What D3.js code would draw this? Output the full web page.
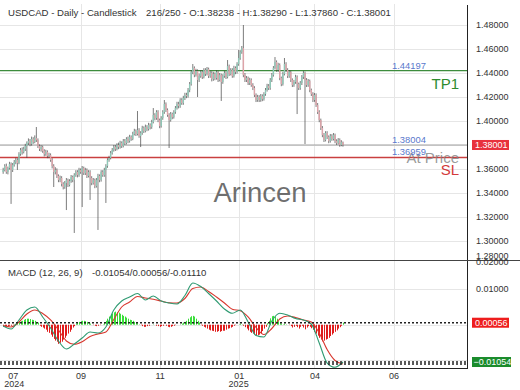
<!DOCTYPE html>
<html>
<head>
<meta charset="utf-8">
<script src="https://cdn.jsdelivr.net/npm/d3@7"></script>
<style>
body{margin:0;background:#fff;}
svg{display:block;font-family:"Liberation Sans",Arial,sans-serif;}
</style>
</head>
<body>
<svg id="chart" width="520" height="390"></svg>
<script>
// ---- data ----
const firstOpen = 1.3575;
const closes = [1.3592,1.3625,1.3575,1.3608,1.3642,1.3592,1.3633,1.3658,1.3675,1.3650,
1.3725,1.3758,1.3742,1.3767,1.3792,1.3817,1.3833,1.3808,1.3850,1.3825,
1.3858,1.3842,1.3792,1.3767,1.3783,1.3750,1.3725,1.3742,1.3708,1.3717,
1.3675,1.3625,1.3575,1.3592,1.3542,1.3508,1.3525,1.3475,1.3450,1.3483,
1.3508,1.3467,1.3500,1.3533,1.3508,1.3550,1.3575,1.3550,1.3592,1.3575,
1.3608,1.3567,1.3592,1.3542,1.3575,1.3525,1.3483,1.3508,1.3458,1.3508,
1.3542,1.3508,1.3575,1.3550,1.3592,1.3625,1.3675,1.3692,1.3733,1.3758,
1.3783,1.3767,1.3800,1.3783,1.3817,1.3792,1.3833,1.3817,1.3850,1.3833,
1.3867,1.3850,1.3892,1.3917,1.3892,1.3925,1.3875,1.3900,1.3942,1.3917,
1.3950,1.3933,1.3967,1.3950,1.3992,1.4050,1.4025,1.4075,1.4008,1.3958,
1.4025,1.4075,1.4142,1.4092,1.4050,1.4008,1.4058,1.4033,1.4075,1.4108,
1.4142,1.4125,1.4175,1.4150,1.4192,1.4217,1.4208,1.4258,1.4308,1.4408,
1.4442,1.4383,1.4417,1.4342,1.4375,1.4408,1.4367,1.4425,1.4392,1.4433,
1.4375,1.4400,1.4350,1.4392,1.4358,1.4408,1.4342,1.4383,1.4325,1.4375,
1.4400,1.4367,1.4458,1.4392,1.4425,1.4375,1.4442,1.4408,1.4475,1.4525,
1.4575,1.4608,1.4383,1.4342,1.4358,1.4317,1.4342,1.4300,1.4275,1.4217,
1.4175,1.4200,1.4175,1.4208,1.4183,1.4225,1.4258,1.4292,1.4275,1.4342,
1.4383,1.4442,1.4492,1.4425,1.4467,1.4358,1.4308,1.4392,1.4475,1.4425,
1.4375,1.4408,1.4342,1.4300,1.4325,1.4367,1.4308,1.4275,1.4317,1.4367,
1.4400,1.4342,1.4300,1.4333,1.4258,1.4225,1.4175,1.4217,1.4133,1.4075,
1.4008,1.3942,1.3883,1.3842,1.3900,1.3867,1.3833,1.3875,1.3850,1.3883,
1.3833,1.3817,1.3842,1.3800,1.38238,1.38001];
const highs = [1.3610,1.3640,1.3645,1.3620,1.3660,1.3655,1.3650,1.3675,1.3695,1.3690,
1.3740,1.3775,1.3780,1.3785,1.3810,1.3830,1.3855,1.3850,1.3870,1.3865,
1.3880,1.3950,1.3855,1.3805,1.3800,1.3795,1.3765,1.3760,1.3755,1.3735,
1.3730,1.3690,1.3640,1.3615,1.3605,1.3555,1.3545,1.3540,1.3490,1.3500,
1.3525,1.3520,1.3515,1.3550,1.3545,1.3565,1.3590,1.3590,1.3610,1.3605,
1.3625,1.3620,1.3610,1.3605,1.3590,1.3590,1.3540,1.3525,1.3520,1.3525,
1.3560,1.3555,1.3590,1.3590,1.3610,1.3640,1.3690,1.3710,1.3750,1.3775,
1.3800,1.3800,1.3815,1.3820,1.3835,1.3830,1.3850,1.3850,1.3865,1.3870,
1.3885,1.3880,1.3910,1.3935,1.3930,1.4083,1.3940,1.3915,1.3960,1.3955,
1.3970,1.3965,1.3985,1.3980,1.4010,1.4108,1.4065,1.4090,1.4090,1.4020,
1.4040,1.4090,1.4175,1.4155,1.4105,1.4065,1.4075,1.4070,1.4090,1.4125,
1.4160,1.4160,1.4190,1.4190,1.4210,1.4235,1.4235,1.4275,1.4325,1.4425,
1.4475,1.4455,1.4435,1.4430,1.4395,1.4425,1.4420,1.4440,1.4440,1.4450,
1.4445,1.4418,1.4415,1.4410,1.4405,1.4425,1.4420,1.4400,1.4395,1.4390,
1.4418,1.4415,1.4508,1.4470,1.4440,1.4440,1.4460,1.4455,1.4490,1.4592,
1.4590,1.4625,1.4800,1.4400,1.4375,1.4370,1.4360,1.4355,1.4315,1.4290,
1.4230,1.4218,1.4215,1.4225,1.4222,1.4240,1.4275,1.4310,1.4308,1.4358,
1.4400,1.4458,1.4533,1.4505,1.4485,1.4480,1.4370,1.4410,1.4525,1.4490,
1.4440,1.4425,1.4420,1.4355,1.4342,1.4385,1.4380,1.4320,1.4333,1.4383,
1.4417,1.4412,1.4358,1.4350,1.4345,1.4270,1.4240,1.4233,1.4230,1.4150,
1.4090,1.4020,1.3958,1.3900,1.3915,1.3915,1.3880,1.3892,1.3890,1.3900,
1.3895,1.3848,1.3858,1.3855,1.3840,1.38290];
const lows = [1.3560,1.3580,1.3560,1.3555,1.3595,1.3309,1.3575,1.3620,1.3640,1.3592,
1.3640,1.3710,1.3720,1.3730,1.3750,1.3692,1.3800,1.3790,1.3795,1.3810,
1.3815,1.3825,1.3775,1.3750,1.3745,1.3735,1.3705,1.3710,1.3690,1.3690,
1.3660,1.3605,1.3450,1.3555,1.3525,1.3490,1.3490,1.3455,1.3430,1.3435,
1.3258,1.3450,1.3455,1.3485,1.3490,1.3067,1.3535,1.3530,1.3535,1.3560,
1.3283,1.3550,1.3550,1.3525,1.3530,1.3342,1.3465,1.3470,1.3440,1.3445,
1.3092,1.3490,1.3495,1.3535,1.3535,1.3317,1.3610,1.3660,1.3680,1.3720,
1.3745,1.3750,1.3755,1.3765,1.3770,1.3775,1.3780,1.3800,1.3805,1.3815,
1.3820,1.3835,1.3840,1.3880,1.3875,1.3880,1.3860,1.3783,1.3885,1.3900,
1.3905,1.3915,1.3920,1.3930,1.3935,1.3980,1.4005,1.4010,1.3990,1.3940,
1.3945,1.4010,1.4060,1.4075,1.4035,1.3775,1.3995,1.4015,1.4020,1.4060,
1.4095,1.4105,1.4110,1.4135,1.4135,1.4175,1.4190,1.4195,1.4240,1.4295,
1.4390,1.4365,1.4370,1.4200,1.4325,1.4360,1.4350,1.4355,1.4375,1.4380,
1.4358,1.4360,1.4330,1.4335,1.4340,1.4345,1.4325,1.4330,1.4167,1.4310,
1.4360,1.4350,1.4355,1.4375,1.4380,1.4360,1.4362,1.4390,1.4395,1.4460,
1.4510,1.4560,1.4365,1.4325,1.4325,1.4300,1.4300,1.4285,1.4258,1.4200,
1.4158,1.4160,1.4158,1.4160,1.4165,1.4170,1.4210,1.4245,1.4258,1.4260,
1.4325,1.4370,1.4430,1.4410,1.4410,1.4340,1.4290,1.4295,1.4380,1.4408,
1.4358,1.4360,1.4325,1.4283,1.4285,1.4310,1.4058,1.4258,1.4260,1.4300,
1.4350,1.3808,1.4283,1.4285,1.4240,1.4208,1.4158,1.4160,1.4117,1.4058,
1.3990,1.3925,1.3865,1.3825,1.3830,1.3850,1.3815,1.3820,1.3835,1.3838,
1.3815,1.3800,1.3805,1.3785,1.3790,1.37860];

// MACD(12,26,9) read every 5th day
const macdDays = [0,5,10,15,20,25,30,35,40,45,50,55,60,65,70,75,80,85,90,95,100,105,
110,115,120,125,130,135,140,145,150,155,160,165,170,175,180,185,190,195,200,205,210,215];
const macdLine = [-0.00037,-0.00121,0.00133,0.00415,0.00500,0.00218,-0.00093,-0.00460,-0.00686,-0.00545,
-0.00376,-0.00206,-0.00234,-0.00065,0.00415,0.00669,0.00782,0.00881,0.00698,0.00811,
0.00669,0.00613,0.00585,0.00825,0.01178,0.01079,0.00881,0.00669,0.00444,0.00322,
0.00415,0.00076,-0.00305,-0.00347,0.00105,0.00322,0.00274,0.00175,0.00133,0.00020,
-0.00517,-0.01082,-0.01203,-0.01054];
const signalLine = [-0.00023,-0.00065,0.00076,0.00302,0.00415,0.00316,0.00133,-0.00150,-0.00460,-0.00554,
-0.00480,-0.00333,-0.00263,-0.00206,0.00147,0.00500,0.00641,0.00797,0.00754,0.00718,
0.00669,0.00621,0.00613,0.00740,0.01023,0.01065,0.00938,0.00782,0.00613,0.00435,
0.00395,0.00218,-0.00079,-0.00277,-0.00107,0.00161,0.00246,0.00203,0.00133,0.00076,
-0.00234,-0.00701,-0.01011,-0.01110];
// histogram, one per day
const histogram = [-0.0006,-0.0006,-0.0004,-0.0005,-0.0003,-0.0003,-0.0001,
0.0001,0.0003,0.0006,0.0008,0.0010,0.0011,0.0014,0.0016,0.0017,0.0017,0.0016,0.0014,0.0013,0.0011,0.0008,0.0006,
-0.0003,-0.0006,-0.0008,-0.0011,-0.0014,-0.0020,-0.0023,-0.0028,-0.0034,-0.0040,-0.0045,-0.0048,-0.0054,-0.0051,-0.0048,-0.0042,-0.0037,-0.0031,-0.0025,-0.0020,-0.0014,-0.0008,-0.0004,
0.0003,0.0006,0.0008,0.0010,0.0011,0.0011,0.0010,0.0008,0.0006,0.0003,
0,-0.0001,-0.0003,-0.0004,-0.0003,-0.0001,0,0.0001,
0.0006,0.0011,0.0017,0.0023,0.0028,0.0032,0.0035,0.0037,0.0035,0.0034,0.0031,0.0028,0.0025,0.0023,0.0020,0.0017,0.0014,0.0013,0.0011,0.0008,0.0006,0.0004,0.0001,
-0.0001,-0.0004,-0.0006,-0.0006,-0.0004,-0.0003,0,0,0.0001,0,-0.0003,-0.0004,-0.0006,-0.0004,-0.0003,0,-0.0003,-0.0006,-0.0007,-0.0006,-0.0004,-0.0003,-0.0001,0,
0,0.0001,0.0003,0.0006,0.0008,0.0011,
0.0017,0.0021,0.0024,0.0025,0.0023,0.0017,0.0011,0.0006,
-0.0001,-0.0003,-0.0006,-0.0008,-0.0011,-0.0014,-0.0016,-0.0017,-0.0018,-0.0020,-0.0020,-0.0018,-0.0020,-0.0018,-0.0017,-0.0017,-0.0014,-0.0011,-0.0010,-0.0008,-0.0006,-0.0003,-0.0001,0,
0.0001,0.0003,0.0001,
-0.0003,-0.0007,-0.0011,-0.0016,-0.0020,-0.0023,-0.0025,-0.0028,-0.0030,-0.0030,-0.0028,-0.0024,-0.0018,-0.0011,-0.0006,
0.0004,0.0011,0.0018,0.0024,0.0025,0.0023,0.0017,0.0010,0.0004,
0.0003,0.0001,0.0003,0.0001,0,-0.0001,
-0.0004,-0.0008,-0.0006,-0.0003,-0.0007,-0.0011,-0.0006,-0.0003,-0.0008,-0.0013,-0.0008,-0.0004,
-0.0006,-0.0010,-0.0014,-0.0020,-0.0025,-0.0031,-0.0037,-0.0042,-0.0047,-0.0045,-0.0042,-0.0040,-0.0037,-0.0032,-0.0028,-0.0024,-0.0020,-0.0016,-0.0011,-0.0007,-0.0003,
0.00056];

const priceTicks = [1.28,1.30,1.32,1.34,1.36,1.38,1.40,1.42,1.44,1.46,1.48];
const macdTicks = [0.01,0.02];
const macdGrid = [-0.01,0,0.01];
const monthLabels = ["07","09","11","01","04","06"];
const monthDays = [6,49,99,149,197,247];
const yearLabels = ["2024","2025"];
const yearDays = [7,149];

const tpLevel = 1.44197, atPriceLevel = 1.38004, slLevel = 1.36959;
const lastClose = 1.38001, lastHist = 0.00056, lastMacd = -0.01054, lastSignal = -0.01110;

// ---- layout ----
const plotRight = 467;
const priceTop = 4, priceBottom = 260;
const macdTop = 261, macdBottom = 368;

let svg = d3.select("#chart");
let x = d3.scaleLinear().domain([-2, 293.5]).range([0, plotRight]);
let yPrice = d3.scaleLinear().domain([1.28, 1.48]).range([265, 25]);
let yMacd = d3.scaleLinear().domain([-0.01, 0.01]).range([360.1, 289.3]);
let fmt = d3.format(".5f");

svg.append("clipPath").attr("id","clipPrice").append("rect")
    .attr("x",0).attr("y",priceTop).attr("width",plotRight).attr("height",priceBottom-priceTop);
svg.append("clipPath").attr("id","clipMacd").append("rect")
    .attr("x",0).attr("y",macdTop).attr("width",plotRight).attr("height",macdBottom-macdTop);

// grid
let grid = svg.append("g").attr("stroke","#e6e6e6").attr("stroke-width",1);
grid.selectAll("line.h").data(priceTicks.filter(t=>yPrice(t)>priceTop && yPrice(t)<priceBottom)).enter()
    .append("line").attr("x1",0).attr("x2",plotRight)
    .attr("y1",d=>Math.round(yPrice(d))+0.5).attr("y2",d=>Math.round(yPrice(d))+0.5);
grid.selectAll("line.m").data(macdGrid).enter()
    .append("line").attr("x1",0).attr("x2",plotRight)
    .attr("y1",d=>Math.round(yMacd(d))+0.5).attr("y2",d=>Math.round(yMacd(d))+0.5);
grid.selectAll("line.v").data(monthDays.slice(1)).enter()
    .append("line").attr("y1",priceTop).attr("y2",macdBottom)
    .attr("x1",d=>Math.round(x(d))+0.5).attr("x2",d=>Math.round(x(d))+0.5);

// ---- price panel ----
let price = svg.append("g").attr("clip-path","url(#clipPrice)");

// level lines
price.append("line").attr("x1",0).attr("x2",plotRight)
    .attr("y1",yPrice(tpLevel)).attr("y2",yPrice(tpLevel))
    .attr("stroke","#3d8c3d").attr("stroke-width",1.1);
price.append("line").attr("x1",0).attr("x2",plotRight)
    .attr("y1",yPrice(atPriceLevel)).attr("y2",yPrice(atPriceLevel))
    .attr("stroke","#a0a0a0").attr("stroke-width",1.1);
price.append("line").attr("x1",0).attr("x2",plotRight)
    .attr("y1",yPrice(slLevel)).attr("y2",yPrice(slLevel))
    .attr("stroke","#c94040").attr("stroke-width",1.3);

let candles = closes.map((c,i)=>({i:i, o:i==0?firstOpen:closes[i-1], h:highs[i], l:lows[i], c:c}));

price.selectAll("line.wick").data(candles).enter().append("line")
    .attr("x1",d=>x(d.i)).attr("x2",d=>x(d.i))
    .attr("y1",d=>yPrice(d.h)).attr("y2",d=>yPrice(d.l))
    .attr("stroke","#444").attr("stroke-width",0.7);
price.selectAll("rect.body").data(candles).enter().append("rect")
    .attr("x",d=>x(d.i)-0.7).attr("width",1.4)
    .attr("y",d=>yPrice(Math.max(d.o,d.c)))
    .attr("height",d=>Math.max(0.8,Math.abs(yPrice(d.o)-yPrice(d.c))))
    .attr("fill",d=>d.c>=d.o?"#8ec9b8":"#dea3a9");

// watermark
svg.append("text").attr("x",260).attr("y",202).attr("text-anchor","middle")
    .attr("font-size",27.5).attr("fill","#555").attr("fill-opacity",0.85).text("Arincen");

// level labels
let levels = [
    {v:tpLevel, big:"TP1", color:"#2e8b2e"},
    {v:atPriceLevel, big:"At Price", color:"#808080"},
    {v:slLevel, big:"SL", color:"#d33a3a"}
];
svg.selectAll("text.big").data(levels).enter().append("text")
    .attr("x",459).attr("y",d=>yPrice(d.v)+18).attr("text-anchor","end")
    .attr("font-size",15).attr("fill",d=>d.color)
    .attr("fill-opacity",d=>d.big=="At Price"?0.8:1).text(d=>d.big);
svg.selectAll("text.lvl").data(levels).enter().append("text")
    .attr("x",392).attr("y",d=>yPrice(d.v)-2)
    .attr("font-size",9.4).attr("fill","#5a78cc").text(d=>fmt(d.v));

// ---- MACD panel ----
let macd = svg.append("g").attr("clip-path","url(#clipMacd)");

macd.selectAll("rect.hist").data(histogram).enter().append("rect")
    .attr("x",(d,i)=>Math.round(x(i)))
    .attr("width",1)
    .attr("y",d=>Math.min(yMacd(0),yMacd(d)))
    .attr("height",d=>Math.abs(yMacd(d)-yMacd(0)))
    .attr("fill",d=>d>=0?"#3ade3a":"#e01c1c");

let macdPts = macdDays.map((d,k)=>({i:d, m:macdLine[k], s:signalLine[k]}));
let lineM = d3.line().curve(d3.curveMonotoneX).x(d=>x(d.i)).y(d=>yMacd(d.m));
let lineS = d3.line().curve(d3.curveMonotoneX).x(d=>x(d.i)).y(d=>yMacd(d.s));
macd.append("path").attr("d",lineS(macdPts)).attr("fill","none")
    .attr("stroke","#d8372e").attr("stroke-width",1.1);
macd.append("path").attr("d",lineM(macdPts)).attr("fill","none")
    .attr("stroke","#2f9a72").attr("stroke-width",1.1);

// dotted value lines
macd.selectAll("line.dot").data([lastHist,lastMacd,lastSignal]).enter().append("line")
    .attr("x1",0).attr("x2",plotRight)
    .attr("y1",d=>yMacd(d)).attr("y2",d=>yMacd(d))
    .attr("stroke","#222").attr("stroke-width",1.4).attr("stroke-dasharray","2,2");

// ---- frame ----
svg.append("line").attr("x1",plotRight+0.5).attr("x2",plotRight+0.5).attr("y1",5).attr("y2",macdBottom)
    .attr("stroke","#222").attr("stroke-width",1);
svg.append("line").attr("x1",0).attr("x2",520).attr("y1",priceBottom+0.5).attr("y2",priceBottom+0.5)
    .attr("stroke","#444").attr("stroke-width",1);
svg.append("line").attr("x1",0).attr("x2",plotRight+1).attr("y1",macdBottom+0.5).attr("y2",macdBottom+0.5)
    .attr("stroke","#222").attr("stroke-width",1);

// ---- right axes ----
let priceAxis = svg.append("g").attr("transform",`translate(${plotRight},0)`)
    .call(d3.axisRight(yPrice).tickValues(priceTicks).tickSize(0).tickPadding(9).tickFormat(fmt));
priceAxis.select(".domain").remove();
priceAxis.selectAll(".tick").attr("transform",d=>`translate(0,${Math.min(yPrice(d),256)})`);
priceAxis.selectAll("text").attr("font-size",9).attr("fill","#333").attr("font-family",null);

let macdAxis = svg.append("g").attr("transform",`translate(${plotRight},0)`)
    .call(d3.axisRight(yMacd).tickValues(macdTicks).tickSize(0).tickPadding(9).tickFormat(fmt));
macdAxis.select(".domain").remove();
macdAxis.selectAll(".tick").attr("transform",d=>`translate(0,${Math.max(yMacd(d),262)})`);
macdAxis.selectAll("text").attr("font-size",9).attr("fill","#333").attr("font-family",null);

// value boxes
let boxes = [
    {y:yPrice(lastClose), text:fmt(lastClose), fill:"#e8323c"},
    {y:yMacd(lastHist), text:fmt(lastHist), fill:"#ee1d1d"},
    {y:yMacd(lastMacd), text:fmt(lastMacd), fill:"#1b8c2c"}
];
let box = svg.selectAll("g.box").data(boxes).enter().append("g");
box.append("rect").attr("x",472).attr("y",d=>d.y-5).attr("width",d=>d.text.length>7?39:37).attr("height",10)
    .attr("fill",d=>d.fill);
box.append("text").attr("x",d=>d.text.length>7?473.5:475).attr("y",d=>d.y+3.3).attr("font-size",9)
    .attr("fill","#fff").text(d=>d.text);

// ---- bottom axis ----
let xAxis = svg.append("g").attr("transform",`translate(0,${macdBottom})`)
    .call(d3.axisBottom(x).tickValues(monthDays).tickSize(0).tickPadding(5)
        .tickFormat((d,k)=>monthLabels[k]));
xAxis.select(".domain").remove();
xAxis.selectAll("text").attr("font-size",9).attr("fill","#333").attr("font-family",null);
svg.selectAll("text.year").data(yearLabels).enter().append("text")
    .attr("x",(d,k)=>x(yearDays[k])).attr("y",387).attr("text-anchor","middle")
    .attr("font-size",9).attr("fill","#333").text(d=>d);

// ---- titles ----
svg.append("text").attr("x",8).attr("y",16).attr("font-size",9.6).attr("fill","#333")
    .text("USDCAD - Daily - Candlestick");
svg.append("text").attr("x",146).attr("y",16).attr("font-size",9.6).attr("fill","#333")
    .text("216/250 - O:1.38238 - H:1.38290 - L:1.37860 - C:1.38001");
svg.append("text").attr("x",8).attr("y",276).attr("font-size",9.6).attr("fill","#333")
    .text("MACD (12, 26, 9)");
svg.append("text").attr("x",92).attr("y",276).attr("font-size",9.6).attr("fill","#333")
    .text("-0.01054/0.00056/-0.01110");
</script>
</body>
</html>
